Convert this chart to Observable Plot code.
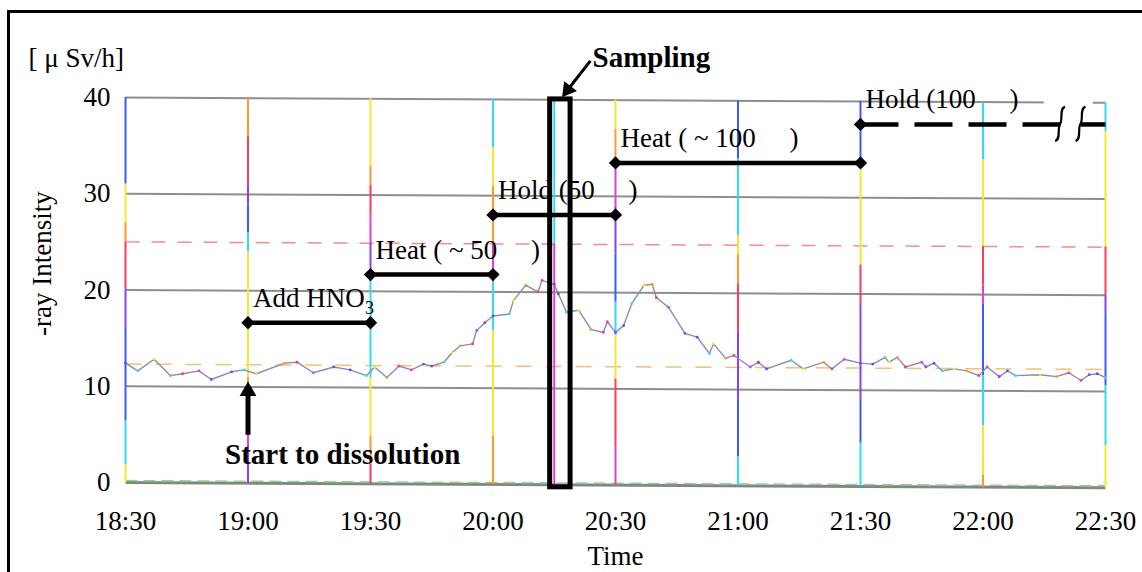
<!DOCTYPE html>
<html><head><meta charset="utf-8">
<script src="https://cdn.jsdelivr.net/npm/d3@7"></script>
<script src="https://cdn.jsdelivr.net/npm/@observablehq/plot@0.6"></script>
<style>
html,body{margin:0;padding:0;background:#fff;overflow:hidden;}
#wrap{position:relative;width:1142px;height:572px;overflow:hidden;}
#frame{position:absolute;left:7px;top:10px;width:2000px;height:2000px;border-left:3px solid #000;border-top:3px solid #000;pointer-events:none;}
#chart{position:absolute;left:0;top:0;}
</style></head><body>
<div id="wrap"><div id="chart"></div><div id="frame"></div></div>
<script>
// ---------- data ----------
const times = ["18:30","18:33","18:37","18:41","18:44","18:48","18:51","18:56","18:59","19:02","19:09","19:12","19:16","19:21","19:25","19:29","19:31","19:34","19:37","19:40","19:43","19:45","19:48","19:50","19:52","19:55","19:56","19:58","20:00","20:04","20:05","20:08","20:11","20:12","20:15","20:16","20:18","20:21","20:24","20:27","20:28","20:30","20:32","20:34","20:37","20:39","20:40","20:43","20:47","20:50","20:53","20:54","20:57","20:59","21:03","21:05","21:07","21:13","21:16","21:21","21:23","21:26","21:30","21:33","21:36","21:37","21:39","21:41","21:45","21:46","21:48","21:50","21:53","21:56","21:59","22:01","22:04","22:06","22:08","22:14","22:18","22:21","22:24","22:26","22:28","22:30"];
const intensity = [12.4,11.6,12.8,11.1,11.3,11.6,10.7,11.5,11.7,11.3,12.4,12.5,11.4,12.0,11.7,11.1,12.0,10.9,12.1,11.7,12.3,12.1,12.5,13.5,14.2,14.4,15.8,16.6,17.3,17.5,18.9,20.5,19.8,21.0,20.6,19.6,17.7,17.9,15.9,15.6,16.7,15.6,16.3,18.6,20.5,20.6,19.2,18.2,15.5,15.1,13.4,14.4,12.9,13.2,12.0,12.5,11.8,12.7,11.8,12.5,11.8,12.8,12.4,12.3,13.0,12.5,13.0,12.0,12.5,12.0,12.4,11.6,11.8,11.6,11.1,12.0,11.0,11.6,11.1,11.2,11.0,11.4,10.6,11.2,11.3,10.9];
const xTickLabels = ["18:30","19:00","19:30","20:00","20:30","21:00","21:30","22:00","22:30"];
const yTicks = [0,10,20,30,40];
const phaseLabels = ["Add HNO","Heat ( ~ 50 \u2003)","Hold (50 \u2003)","Heat ( ~ 100 \u2003)","Hold (100 \u2003)"];
const phaseStart = ["19:00","19:30","20:00","20:30","21:30"];
const phaseEnd = ["19:30","20:00","20:30","21:30","22:30"];
const phaseLevel = [16.6,21.6,27.8,33.2,37.2];
const samplingStart = "20:14", samplingEnd = "20:19";
const dissolutionStart = "19:00";
const breakTimes = ["22:19","22:24"];
const refRed = 25, refOrange = 12.3, refGreen = 0.2;

// ---------- styles ----------
const B="#3a5cff", C="#2fdcf0", Y="#f3e82a", O="#ff9a2e", R="#ff3b5c", M="#e040d0", P="#8a40f0";
const gridColors = {
 "18:30": [[40,31,B],[31,27,Y],[27,25,O],[25,20,R],[20,16,P],[16,6.4,B],[6.4,1.8,C],[1.8,0,Y]],
 "19:00": [[40,36,O],[36,31,R],[31,29,P],[29,26,B],[26,24,C],[24,11,Y],[11,8,O],[8,4,M],[4,0,P]],
 "19:30": [[40,33,Y],[33,31,O],[31,28,R],[28,25,M],[25,21,P],[21,11,C],[11,5,Y],[5,2,O],[2,0,R]],
 "20:00": [[40,35,C],[35,31,Y],[31,25,O],[25,21,M],[21,16,C],[16,5,Y],[5,0,O]],
 "20:15": [[40,25,C],[25,0,M]],
 "20:30": [[40,37,Y],[37,33,O],[33,29,M],[29,24,P],[24,19,B],[19,15.5,C],[15.5,11,Y],[11,4,R],[4,0,M]],
 "21:00": [[40,34,B],[34,26,C],[26,24,Y],[24,21,O],[21,16,R],[16,9,P],[9,3,B],[3,0,C]],
 "21:30": [[40,33.5,B],[33.5,23,Y],[23,19,R],[19,9,P],[9,4.5,B],[4.5,0,C]],
 "22:00": [[40,34,C],[34,25,Y],[25,21,R],[21,19,M],[19,11.6,B],[11.6,6.4,C],[6.4,1.2,Y],[1.2,0,O]],
 "22:30": [[40,37,C],[37,25,Y],[25,20,R],[20,18,P],[18,10.6,B],[10.6,4.4,C],[4.4,0,Y]]
};
const palette = [B,C,Y,O,R,M,P];

// ---------- build ----------
const T = d3.utcParse("%H:%M");
const T2 = d3.utcParse("%H:%M:%S");
const t0 = T("18:30"), t1 = T("22:30");
const TILT = 0.55;
const tilt = t => TILT * (t - t0) / (t1 - t0);

const trace = times.map((t,i) => ({t: T(t), v: intensity[i]}));
const xTicks = xTickLabels.map(T);
const vsegs = [];
for (const [k, segs] of Object.entries(gridColors)) {
  const t = T(k);
  for (const [hi, lo, c] of segs) vsegs.push({t, hi, lo, c});
}
const phases = phaseLabels.map((l,i) => ({label:l, s:T(phaseStart[i]), e:T(phaseEnd[i]), y:phaseLevel[i]}));
const ends = [];
phases.forEach((p,i) => { ends.push({t:p.s, y:p.y}); if (i < 4) ends.push({t:p.e, y:p.y}); });
const hold = phases[4];
const b1 = T(breakTimes[0]), b2 = T(breakTimes[1]);
const samp = [{a: T(samplingStart), b: T(samplingEnd)}];
const dis = T(dissolutionStart);
const hlines = yTicks.filter(d => d > 0);
const one = [0];

const chart = Plot.plot({
  width: 1142, height: 572,
  marginLeft: 125, marginRight: 37, marginTop: 97, marginBottom: 90,
  x: {type: "utc", domain: [t0, t1], axis: null},
  y: {domain: [0, 40], axis: null},
  color: {type: "identity"},
  style: {fontFamily: "'Liberation Serif', 'Times New Roman', serif", fontSize: "27px", background: "transparent", color: "black", overflow: "visible"},
  marks: [
    Plot.link(hlines, {x1: () => t0, x2: () => t1, y1: d => d, y2: d => d - TILT, stroke: "#8e8e8e", strokeWidth: 2}),
    Plot.link([0], {x1: () => t0, x2: () => t1, y1: () => 0, y2: () => -TILT, stroke: "#858585", strokeWidth: 3}),
    Plot.link([refRed], {x1: () => t0, x2: () => t1, y1: d => d, y2: d => d - TILT, stroke: "#f58c8c", strokeWidth: 1.5, strokeDasharray: "14,12"}),
    Plot.link([refOrange], {x1: () => t0, x2: () => t1, y1: d => d, y2: d => d - TILT, stroke: "#f2c07a", strokeWidth: 1.5, strokeDasharray: "16,14"}),
    Plot.link([refGreen], {x1: () => t0, x2: () => t1, y1: d => d, y2: d => d - TILT, stroke: "#8fcf8f", strokeWidth: 1.5, strokeDasharray: "12,6"}),
    Plot.rect(one, {x1: () => T("22:15"), x2: () => T("22:27"), y1: () => 38.9, y2: () => 40.3, fill: "white"}),
    Plot.ruleX(vsegs, {x: "t", y1: d => d.lo - tilt(d.t), y2: d => d.hi - tilt(d.t), stroke: "c", strokeWidth: 2}),
    Plot.line(trace, {x: "t", y: "v", stroke: "#8b8bb0", strokeWidth: 1.4}),
    Plot.dot(trace, {x: "t", y: "v", r: 1.4, fill: (d,i) => palette[i % palette.length], stroke: "none"}),
    Plot.axisX(xTicks, {tickSize: 0, tickPadding: 28, tickFormat: d3.utcFormat("%H:%M"), label: null, fontSize: 27}),
    Plot.axisY(yTicks, {tickSize: 0, tickPadding: 15, label: null, fontSize: 27}),
    Plot.text(one, {frameAnchor: "bottom", x: () => T("20:30"), text: () => "Time", dy: 82, lineAnchor: "bottom"}),
    Plot.text(one, {x: () => T2("18:09:45"), y: () => 22.75, text: () => "-ray Intensity", rotate: -90}),
    Plot.text(one, {frameAnchor: "top-left", text: () => "[ \u03bc Sv/h]", textAnchor: "start", lineAnchor: "bottom", dx: -97, dy: -31}),
    Plot.link(phases.slice(0,4), {x1: "s", x2: "e", y1: "y", y2: "y", stroke: "black", strokeWidth: 4.5}),
    Plot.link([hold], {x1: "s", x2: () => b1, y1: "y", y2: "y", stroke: "black", strokeWidth: 4.5, strokeDasharray: "38,16"}),
    Plot.link([hold], {x1: () => b2, x2: "e", y1: "y", y2: "y", stroke: "black", strokeWidth: 4.5}),
    Plot.dot(ends, {x: "t", y: "y", symbol: "diamond2", r: 6, fill: "black", stroke: "none"}),
    Plot.text(phases, {x: "s", y: "y", text: "label", textAnchor: "start", lineAnchor: "bottom", dx: 5, dy: -16}),
    Plot.text([phases[0]], {x: "s", y: "y", text: () => "3", textAnchor: "start", lineAnchor: "bottom", dx: 117, dy: -9, fontSize: 18}),
    (index, scales) => {
      const g = d3.create("svg:g").attr("fill", "none").attr("stroke", "black").attr("stroke-width", 2.2);
      for (const b of breakTimes) {
        const x = scales.x(T(b)), y = scales.y(hold.y);
        g.append("path").attr("d", `M${x+5},${y-17} C${x-1},${y-16} ${x+3},${y-4} ${x},${y} C${x-3},${y+4} ${x+1},${y+16} ${x-5},${y+17}`);
      }
      return g.node();
    },
    Plot.rect(samp, {x1: "a", x2: "b", y1: () => -0.5, y2: () => 39.8, fill: "none", stroke: "black", strokeWidth: 5}),
    Plot.link(one, {x1: () => T2("20:23:51"), y1: () => 43.8, x2: () => T2("20:18:18"), y2: () => 40.8, stroke: "black", strokeWidth: 3}),
    Plot.dot(one, {x: () => T2("20:18:18"), y: () => 40.8, symbol: "triangle", r: 6, rotate: 217.6, fill: "black", stroke: "none"}),
    Plot.text(samp, {x: "b", y: () => 40, text: () => "Sampling", textAnchor: "start", lineAnchor: "bottom", dx: 22, dy: -31, fontWeight: "bold", fontSize: 29}),
    Plot.ruleX([dis], {x: d => d, y1: () => 4.9, y2: () => 9.0, stroke: "black", strokeWidth: 5}),
    Plot.dot([dis], {x: d => d, y: () => 9.5, symbol: "triangle", r: 6.2, fill: "black", stroke: "none"}),
    Plot.text([dis], {x: d => d, y: () => 0, text: () => "Start to dissolution", textAnchor: "start", lineAnchor: "bottom", dx: -23, dy: -19, fontWeight: "bold", fontSize: 29})
  ]
});
document.getElementById("chart").appendChild(chart);
</script></body></html>
